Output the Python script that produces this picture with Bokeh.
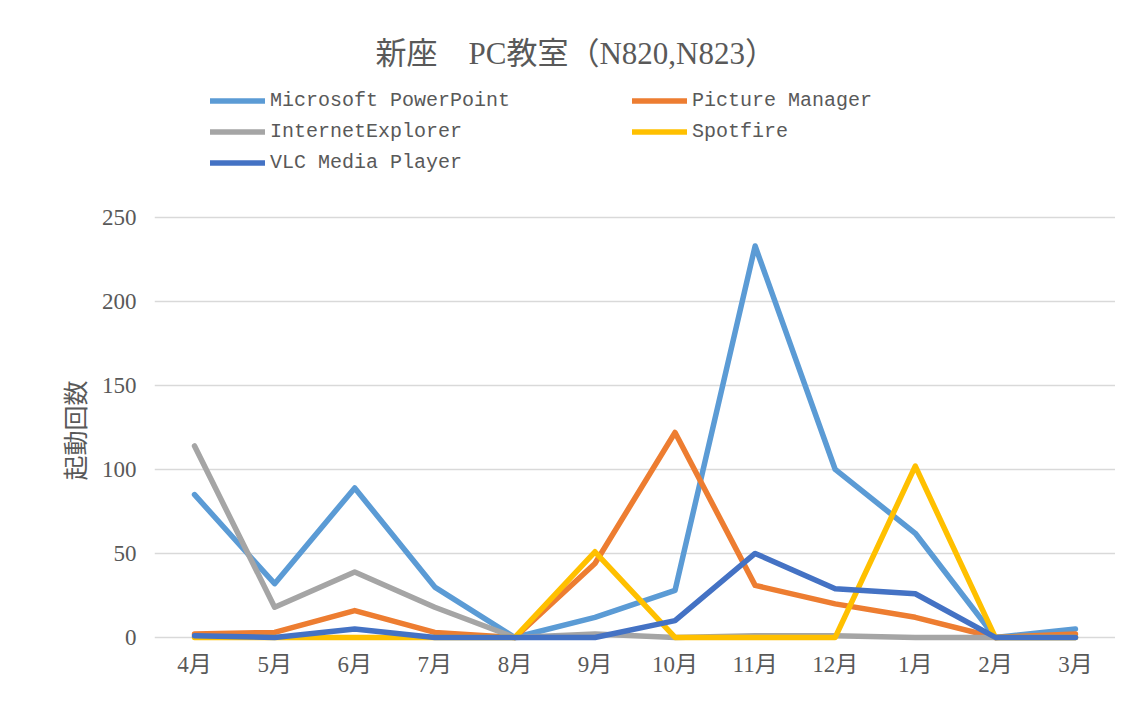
from bokeh.plotting import figure
from bokeh.models import Legend, LegendItem, FixedTicker, Range1d, FactorRange, Title
from bokeh.embed import file_html
from bokeh.resources import INLINE

months = ["4月", "5月", "6月", "7月", "8月", "9月", "10月", "11月", "12月", "1月", "2月", "3月"]
powerpoint = [85, 32, 89, 30, 0, 12, 28, 233, 100, 62, 0, 5]
picture_manager = [2, 3, 16, 3, 0, 44, 122, 31, 20, 12, 0, 2]
internet_explorer = [114, 18, 39, 18, 0, 2, 0, 1, 1, 0, 0, 0]
spotfire = [0, 0, 0, 0, 0, 51, 0, 0, 0, 102, 0, 0]
vlc = [1, 0, 5, 0, 0, 0, 10, 50, 29, 26, 0, 0]
y_ticks = [0, 50, 100, 150, 200, 250]

series = [
    ("Microsoft PowerPoint", powerpoint, "#5B9BD5"),
    ("Picture Manager", picture_manager, "#ED7D31"),
    ("InternetExplorer", internet_explorer, "#A5A5A5"),
    ("Spotfire", spotfire, "#FFC000"),
    ("VLC Media Player", vlc, "#4472C4"),
]

TXT = "#595959"
SERIF = "Liberation Serif, Noto Sans CJK JP"

p = figure(
    width=1115, height=712,
    x_range=FactorRange(factors=months, range_padding=0),
    y_range=Range1d(-3, 334.5),
    output_backend="svg", toolbar_location=None,
    min_border_left=154, min_border_right=0,
    min_border_top=75, min_border_bottom=70,
    title="新座　PC教室（N820,N823）",
)
p.outline_line_color = None
p.background_fill_color = "white"
p.border_fill_color = "white"

p.title.text_font = SERIF
p.title.text_font_size = "31px"
p.title.text_font_style = "normal"
p.title.text_color = TXT
p.title.align = "left"
p.title.offset = 221

items = []
for name, vals, col in series:
    r = p.line(months, vals, line_color=col, line_width=5.5,
               line_join="round", line_cap="round")
    items.append(LegendItem(label=name, renderers=[r]))

p.xgrid.grid_line_color = None
p.ygrid.grid_line_color = "#d9d9d9"
p.ygrid.grid_line_width = 1.5
p.yaxis.ticker = FixedTicker(ticks=y_ticks)

for ax in (p.xaxis[0], p.yaxis[0]):
    ax.axis_line_color = None
    ax.major_tick_line_color = None
    ax.minor_tick_line_color = None
    ax.major_tick_out = 0
    ax.major_tick_in = 0
    ax.major_label_text_font = SERIF
    ax.major_label_text_font_size = "23px"
    ax.major_label_text_color = TXT

p.xaxis.major_label_standoff = 9
p.yaxis.major_label_standoff = 18

ytitle = Title(text="起動回数", align="left", offset=162,
               text_font="Noto Sans CJK JP", text_font_size="25px",
               text_font_style="normal", text_color=TXT, standoff=14)
p.add_layout(ytitle, "left")

legend = Legend(
    items=items, orientation="horizontal", ncols=2,
    location=(56, 464),
    glyph_width=55, glyph_height=31, label_height=31, label_width=362,
    label_standoff=5, spacing=0, padding=0, margin=0,
    border_line_color=None, background_fill_alpha=0,
    label_text_font="Liberation Mono", label_text_font_size="20px",
    label_text_color=TXT,
)
p.add_layout(legend)

open("out.html", "w").write(file_html(p, INLINE))
